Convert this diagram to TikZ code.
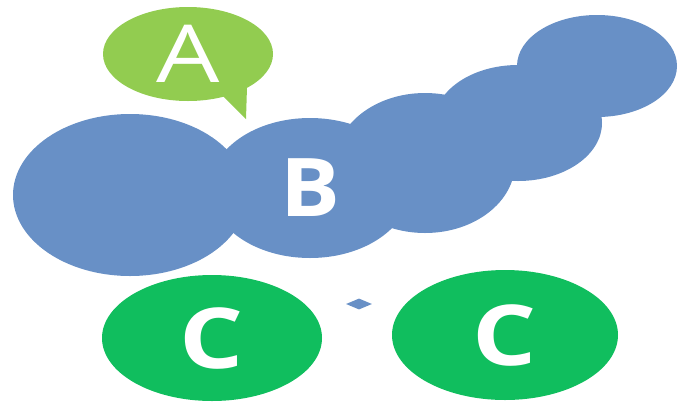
\documentclass[tikz,border=0pt]{standalone}
\usepackage{fontspec}
\setmainfont{Open Sans}
\usetikzlibrary{shapes.geometric}
\definecolor{cloudblue}{RGB}{104,144,198}
\definecolor{leafgreen}{RGB}{146,204,80}
\definecolor{deepgreen}{RGB}{16,190,94}
\newcommand{\wideletter}[2]{\scalebox{#1}[1]{#2}}

\begin{document}
\begin{tikzpicture}[x=1pt, y=-1pt,
    blob/.style={ellipse, fill=cloudblue, inner sep=0pt},
    bubble/.style={ellipse, fill=leafgreen, inner sep=0pt, text=white,
      font=\fontsize{80}{80}\selectfont},
    cball/.style={ellipse, fill=deepgreen, inner sep=0pt, text=white,
      font=\fontsize{84}{84}\selectfont\bfseries}]
  \useasboundingbox (0, 0) rectangle (678, 408);

  % blue chain
  \node [blob, minimum width=234, minimum height=162] (b1) at (130, 195) {};
  \node [blob, minimum width=200, minimum height=140, text=white,
    font=\fontsize{81}{81}\selectfont\bfseries] (b2) at (310, 188)
    {\wideletter{1.1}{B}};
  \node [blob, minimum width=180, minimum height=140] (b3) at (425, 163) {};
  \node [blob, minimum width=168, minimum height=116] (b4) at (518, 123) {};
  \node [blob, minimum width=160, minimum height=102] (b5) at (597, 66) {};

  % speech bubble
  \fill [leafgreen] (223, 96) -- (246, 119) -- (247, 87) -- cycle;
  \node [bubble, minimum width=170, minimum height=94] (a) at (188, 54)
    {\wideletter{1.25}{A}};

  \node [diamond, fill=cloudblue, inner sep=0pt, minimum width=26,
    minimum height=11] (d) at (359, 304) {};

  \node [cball, minimum width=220, minimum height=126] (c1) at (212, 338)
    {\wideletter{1.2}{C}};
  \node [cball, minimum width=226, minimum height=130] (c2) at (505, 335)
    {\wideletter{1.2}{C}};
\end{tikzpicture}
\end{document}
